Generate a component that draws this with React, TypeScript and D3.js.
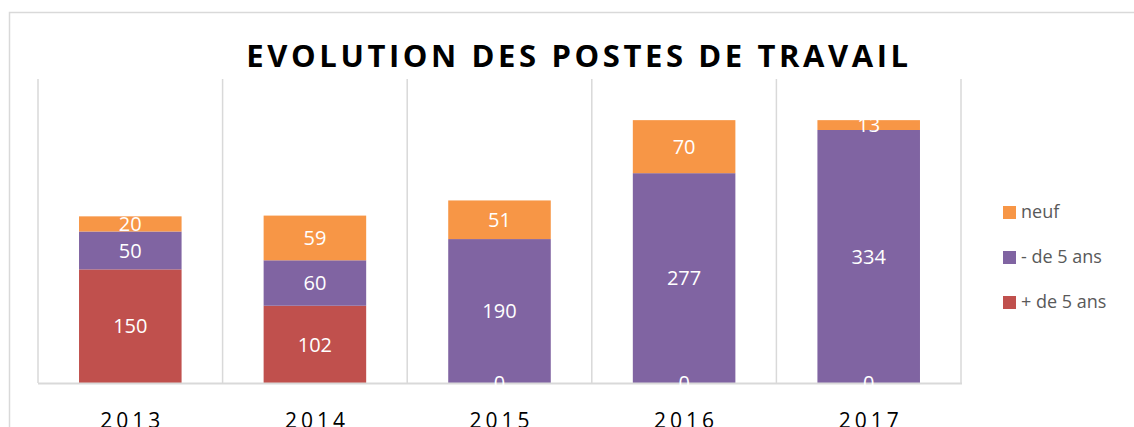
import React from "react";
import * as d3 from "d3";

const years = ["2013", "2014", "2015", "2016", "2017"];
const plusDe5 = [150, 102, 0, 0, 0];
const moinsDe5 = [50, 60, 190, 277, 334];
const neuf = [20, 59, 51, 70, 13];
const yTicks = [0, 100, 200, 300, 400];

const seriesNames = ["+ de 5 ans", "- de 5 ans", "neuf"];
const seriesColors = ["#C0504D", "#8064A2", "#F79646"];
const legendOrder = ["neuf", "- de 5 ans", "+ de 5 ans"];

const W = 1134;
const H = 427;
const plotLeft = 38;
const plotRight = 961;
const plotTop = 80;
const plotBottom = 383;

export default function App() {
  const x = d3
    .scaleBand<string>()
    .domain(years)
    .range([plotLeft, plotRight])
    .paddingInner(0.8 / 1.8)
    .paddingOuter(0.4 / 1.8);
  const y = d3
    .scaleLinear()
    .domain([0, yTicks[yTicks.length - 1]])
    .range([plotBottom, plotTop]);

  const rows = years.map((yr, i) => ({
    year: yr,
    "+ de 5 ans": plusDe5[i],
    "- de 5 ans": moinsDe5[i],
    neuf: neuf[i],
  }));
  const stack = d3.stack<any>().keys(seriesNames);
  const layers = stack(rows);
  const color = d3.scaleOrdinal<string, string>().domain(seriesNames).range(seriesColors);

  const step = x.step();
  const boundaries = d3.range(years.length + 1).map((i) => plotLeft + i * step);

  const font = "'Open Sans', 'Noto Sans', sans-serif";

  return (
    <svg
      width={W}
      height={H}
      style={{ position: "absolute", left: 0, top: 0, background: "#fff" }}
    >
      <rect x={9.5} y={12.5} width={W + 50} height={H + 50} fill="#fff" stroke="#d9d9d9" strokeWidth={1.5} />
      <text
        x={579}
        y={67}
        textAnchor="middle"
        fontFamily={font}
        fontWeight={700}
        fontSize={31}
        letterSpacing={3.6}
        fill="#000"
      >
        EVOLUTION DES POSTES DE TRAVAIL
      </text>
      {boundaries.map((bx, i) => (
        <line key={i} x1={bx} x2={bx} y1={y(400) - 1} y2={plotBottom} stroke="#d9d9d9" strokeWidth={1.5} />
      ))}
      {layers.map((layer) => (
        <g key={layer.key} fill={color(layer.key)}>
          {layer.map((d, i) => (
            <rect
              key={i}
              x={x(years[i])}
              y={y(d[1])}
              width={x.bandwidth()}
              height={y(d[0]) - y(d[1])}
            />
          ))}
        </g>
      ))}
      <line x1={plotLeft} x2={plotRight + 1} y1={plotBottom + 0.5} y2={plotBottom + 0.5} stroke="#d9d9d9" strokeWidth={2} />
      {layers.map((layer) => (
        <g key={layer.key + "-lab"}>
          {layer.map((d, i) => (
            <text
              key={i}
              x={(x(years[i]) as number) + x.bandwidth() / 2}
              y={(y(d[0]) + y(d[1])) / 2}
              dy="0.36em"
              textAnchor="middle"
              fontFamily={font}
              fontSize={20}
              fill="#fff"
            >
              {d[1] - d[0]}
            </text>
          ))}
        </g>
      ))}
      {years.map((yr) => (
        <text
          key={yr}
          x={(x(yr) as number) + x.bandwidth() / 2 + 2}
          y={428}
          textAnchor="middle"
          fontFamily={font}
          fontSize={21}
          letterSpacing={4}
          fill="#000"
        >
          {yr}
        </text>
      ))}
      {legendOrder.map((name, i) => (
        <g key={name} transform={`translate(1003, ${212 + i * 45})`}>
          <rect x={0} y={-6} width={13} height={13} fill={color(name)} />
          <text x={18} y={0} dy="0.36em" fontFamily={font} fontSize={18} fill="#595959">
            {name}
          </text>
        </g>
      ))}
    </svg>
  );
}
